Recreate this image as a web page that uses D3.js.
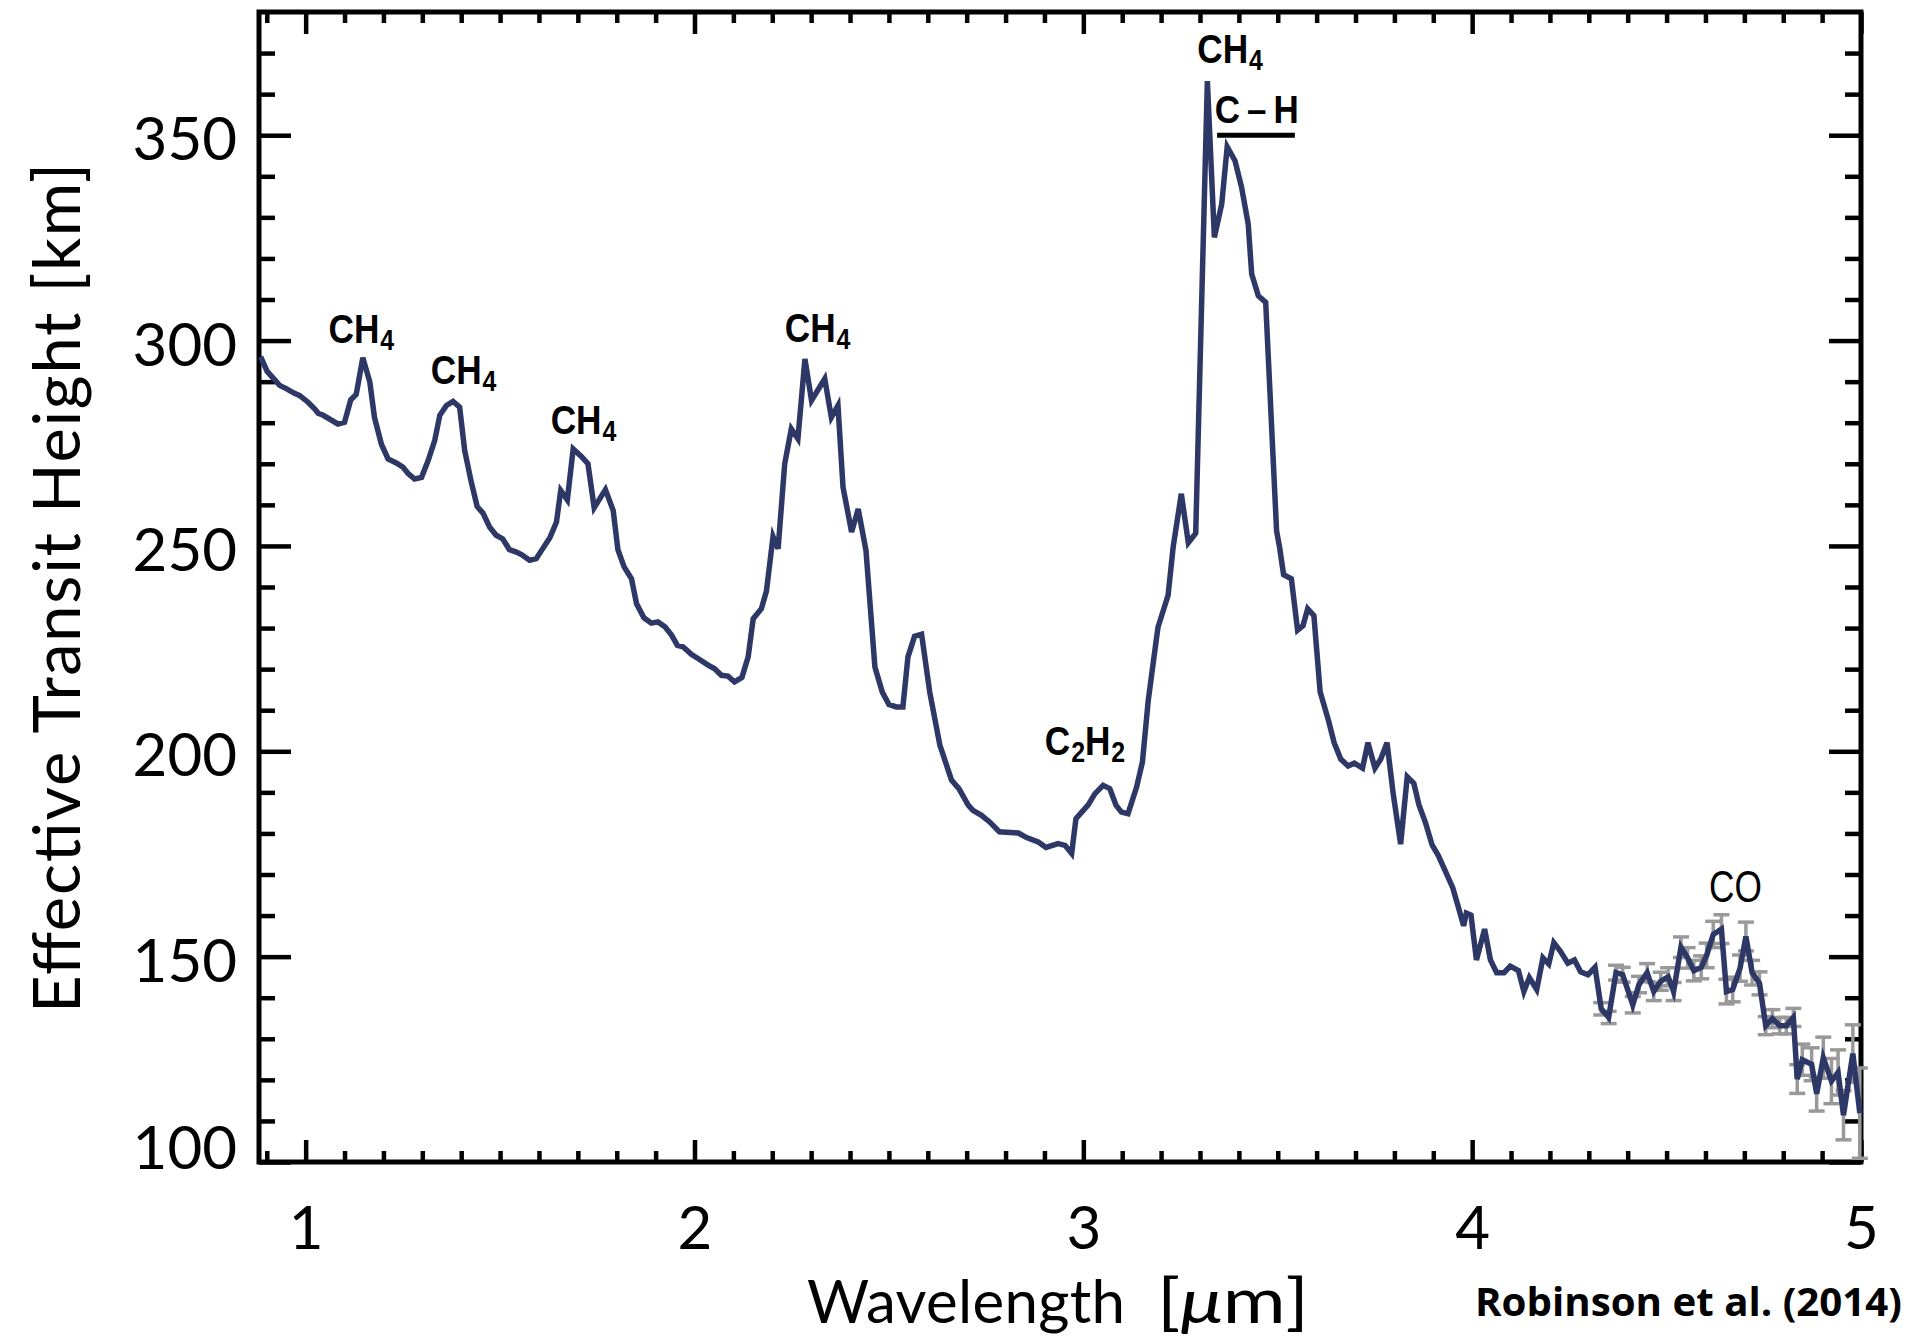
<!DOCTYPE html>
<html>
<head>
<meta charset="utf-8">
<script src="https://cdn.jsdelivr.net/npm/d3@7/dist/d3.min.js"></script>
<style>
  body { margin: 0; background: #fff; }
  svg { display: block; }
</style>
</head>
<body>
<div id="chart"></div>
<script>
// spectrum (wavelength in micron, effective transit height in km)
var wavelength = [
  0.884, 0.901, 0.916, 0.933, 0.950, 0.970, 0.985, 1.006, 1.023, 1.032, 1.045, 1.083, 1.100, 1.116, 1.130,
  1.147, 1.165, 1.177, 1.195, 1.212, 1.233, 1.250, 1.263, 1.280, 1.298, 1.315, 1.332, 1.345, 1.362, 1.379,
  1.396, 1.409, 1.426, 1.441, 1.456, 1.473, 1.490, 1.507, 1.524, 1.542, 1.555, 1.576, 1.593, 1.608, 1.628,
  1.645, 1.656, 1.673, 1.688, 1.709, 1.726, 1.742, 1.771, 1.791, 1.803, 1.819, 1.838, 1.851, 1.870, 1.889,
  1.906, 1.924, 1.941, 1.956, 1.971, 1.992, 2.009, 2.035, 2.052, 2.069, 2.086, 2.103, 2.122, 2.138, 2.151,
  2.172, 2.185, 2.202, 2.215, 2.232, 2.249, 2.266, 2.284, 2.301, 2.335, 2.352, 2.369, 2.382, 2.404, 2.421,
  2.441, 2.464, 2.483, 2.500, 2.519, 2.536, 2.549, 2.566, 2.584, 2.605, 2.631, 2.661, 2.680, 2.704, 2.716,
  2.738, 2.759, 2.784, 2.833, 2.854, 2.884, 2.904, 2.935, 2.953, 2.970, 2.981, 3.012, 3.030, 3.051, 3.068,
  3.084, 3.098, 3.115, 3.137, 3.152, 3.167, 3.180, 3.192, 3.218, 3.231, 3.252, 3.270, 3.289, 3.319, 3.337,
  3.356, 3.370, 3.390, 3.407, 3.424, 3.433, 3.450, 3.469, 3.497, 3.505, 3.515, 3.535, 3.551, 3.565, 3.577,
  3.593, 3.609, 3.631, 3.645, 3.662, 3.681, 3.697, 3.718, 3.732, 3.750, 3.765, 3.781, 3.797, 3.816, 3.833,
  3.850, 3.863, 3.880, 3.897, 3.913, 3.931, 3.950, 3.964, 3.978, 3.985, 3.997, 4.011, 4.032, 4.047, 4.063,
  4.082, 4.098, 4.119, 4.133, 4.147, 4.166, 4.182, 4.197, 4.210, 4.227, 4.246, 4.263, 4.279, 4.298, 4.316,
  4.332, 4.351, 4.370, 4.387, 4.413, 4.429, 4.450, 4.467, 4.485, 4.504, 4.518, 4.537, 4.554, 4.570, 4.589,
  4.603, 4.620, 4.641, 4.654, 4.670, 4.689, 4.704, 4.720, 4.739, 4.755, 4.772, 4.791, 4.808, 4.826, 4.836,
  4.849, 4.873, 4.886, 4.903, 4.924, 4.941, 4.955, 4.979, 4.997
];
var transitHeight = [
  296.1, 292.5, 290.9, 289.1, 288.3, 287.2, 286.6, 285.0, 283.4, 282.3, 281.8, 279.7, 280.1, 285.6, 286.9,
  295.8, 289.9, 281.3, 274.7, 271.2, 270.2, 269.2, 267.7, 266.3, 266.7, 270.8, 275.7, 281.8, 284.2, 285.2,
  283.8, 273.2, 265.5, 259.6, 258.0, 254.6, 252.6, 251.7, 249.1, 248.5, 247.9, 246.5, 246.9, 249.1, 252.0,
  255.8, 263.5, 261.2, 273.6, 271.8, 270.0, 259.3, 263.7, 258.6, 249.1, 244.9, 242.0, 235.9, 232.5, 231.2,
  231.5, 230.3, 228.3, 225.8, 225.4, 223.6, 222.6, 221.0, 220.1, 218.5, 218.3, 216.9, 218.0, 223.0, 232.3,
  234.7, 239.0, 252.3, 249.3, 270.0, 278.5, 276.1, 295.5, 285.4, 290.7, 281.3, 284.2, 264.3, 253.4, 259.0,
  248.9, 220.5, 214.4, 211.4, 210.8, 210.8, 223.0, 228.0, 228.5, 214.4, 201.5, 193.0, 190.9, 186.9, 185.6,
  184.4, 182.8, 180.4, 180.1, 179.0, 177.9, 176.6, 177.5, 177.1, 175.1, 183.6, 186.9, 189.7, 191.7, 190.9,
  186.9, 185.2, 184.8, 191.3, 197.4, 212.4, 221.7, 230.2, 238.0, 249.7, 262.7, 250.8, 253.1, 363.2, 325.1,
  333.3, 347.2, 343.8, 337.3, 328.4, 316.2, 310.9, 309.3, 253.7, 249.5, 243.0, 242.0, 229.5, 230.6, 234.7,
  233.0, 214.5, 207.3, 202.1, 198.1, 196.4, 197.1, 195.9, 202.1, 195.9, 198.1, 202.1, 189.6, 177.4, 193.8,
  192.2, 187.0, 182.6, 177.2, 174.6, 170.8, 166.8, 162.2, 157.5, 160.6, 160.1, 149.2, 156.7, 149.2, 146.1,
  146.1, 147.7, 146.6, 141.5, 144.9, 142.0, 149.7, 148.2, 153.4, 151.3, 148.4, 149.2, 146.3, 145.6, 147.4,
  137.3, 135.2, 146.1, 145.6, 138.3, 143.2, 146.1, 141.5, 144.0, 145.1, 141.5, 152.3, 149.7, 146.6, 147.4,
  150.3, 155.4, 156.7, 141.5, 142.0, 147.2, 154.9, 146.1, 143.5, 133.2, 134.9, 133.2, 133.2, 135.2, 120.2,
  124.9, 123.8, 116.6, 125.4, 119.7, 121.8, 111.4, 126.4, 111.9
];
// error bar half-heights for the last points of the spectrum (from 4.33 micron on)
var errHalf = [
  1.5, 1.5, 1.8, 1.8, 2.0, 2.0, 2.2, 2.2, 2.2, 2.2, 2.2, 2.5, 2.5, 2.5, 2.8,
  3.0, 3.2, 3.5, 3.0, 3.0, 3.2, 3.5, 3.0, 2.8, 2.2, 2.2, 2.0, 2.0, 2.2, 3.5,
  3.8, 4.0, 4.2, 5.0, 5.5, 5.5, 6.0, 7.0, 11.0
];

var xMajor = [1, 2, 3, 4, 5];
var yMajor = [100, 150, 200, 250, 300, 350];

// molecule labels: parts are [text, isSubscript]
var bandLabels = [
  { parts: [["CH", 0], ["4", 1]], wl: 1.059, val: 299.3, bold: true },
  { parts: [["CH", 0], ["4", 1]], wl: 1.322, val: 289.5, bold: true },
  { parts: [["CH", 0], ["4", 1]], wl: 1.630, val: 277.3, bold: true },
  { parts: [["CH", 0], ["4", 1]], wl: 2.232, val: 299.6, bold: true },
  { parts: [["CH", 0], ["4", 1]], wl: 3.293, val: 367.5, bold: true },
  { parts: [["C", 0], ["2", 1], ["H", 0], ["2", 1]], wl: 2.901, val: 199.0, bold: true },
  { parts: [["CO", 0]], wl: 4.609, val: 163.3, bold: false }
];

drawChart();

function drawChart(){
  var width = 1917, height = 1344;
  var mLeft = 259, mRight = 1861, mTop = 12, mBottom = 1162;

  var svg = d3.select("#chart").append("svg")
      .attr("width", width)
      .attr("height", height);

  var x = d3.scaleLinear().domain([0.88, 5.0]).range([mLeft, mRight]);
  var y = d3.scaleLinear().domain([100, 380]).range([mBottom, mTop]);

  var tickFont = "Lato, 'DejaVu Sans', sans-serif";
  var labelFont = "'Liberation Sans', Arial, sans-serif";

  var xMinor = d3.range(9, 50).map(function(d){ return d / 10; }).filter(function(d){ return d % 1 !== 0; });
  var yMinor = d3.range(110, 380, 10).filter(function(d){ return d % 50 !== 0; });

  function styleAxis(g) {
    g.select(".domain").remove();
    g.selectAll(".tick line").attr("stroke", "#000").attr("stroke-width", 4.5);
  }

  // bottom axis with labels
  svg.append("g")
      .attr("transform", "translate(0," + mBottom + ")")
      .call(d3.axisBottom(x).tickValues(xMajor).tickSizeInner(-22).tickSizeOuter(0).tickPadding(44).tickFormat(d3.format("d")))
      .call(styleAxis)
      .call(function(g){
        g.selectAll("text").attr("font-family", tickFont).attr("font-size", 60).attr("fill", "#000");
      });
  svg.append("g")
      .attr("transform", "translate(0," + mBottom + ")")
      .call(d3.axisBottom(x).tickValues(xMinor).tickSizeInner(-11).tickSizeOuter(0).tickFormat(""))
      .call(styleAxis);

  // top axis (mirror)
  svg.append("g")
      .attr("transform", "translate(0," + mTop + ")")
      .call(d3.axisTop(x).tickValues(xMajor).tickSizeInner(-22).tickSizeOuter(0).tickFormat(""))
      .call(styleAxis);
  svg.append("g")
      .attr("transform", "translate(0," + mTop + ")")
      .call(d3.axisTop(x).tickValues(xMinor).tickSizeInner(-11).tickSizeOuter(0).tickFormat(""))
      .call(styleAxis);

  // left axis with labels
  svg.append("g")
      .attr("transform", "translate(" + mLeft + ",0)")
      .call(d3.axisLeft(y).tickValues(yMajor).tickSizeInner(-32).tickSizeOuter(0).tickPadding(22).tickFormat(d3.format("d")))
      .call(styleAxis)
      .call(function(g){
        g.selectAll("text")
          .attr("font-family", tickFont).attr("font-size", 60).attr("fill", "#000")
          .attr("dy", "0.41em")
          .attr("y", function(d){ return d === 100 ? -18 : 0; });
      });
  svg.append("g")
      .attr("transform", "translate(" + mLeft + ",0)")
      .call(d3.axisLeft(y).tickValues(yMinor).tickSizeInner(-16).tickSizeOuter(0).tickFormat(""))
      .call(styleAxis);

  // right axis (mirror)
  svg.append("g")
      .attr("transform", "translate(" + mRight + ",0)")
      .call(d3.axisRight(y).tickValues(yMajor).tickSizeInner(-32).tickSizeOuter(0).tickFormat(""))
      .call(styleAxis);
  svg.append("g")
      .attr("transform", "translate(" + mRight + ",0)")
      .call(d3.axisRight(y).tickValues(yMinor).tickSizeInner(-16).tickSizeOuter(0).tickFormat(""))
      .call(styleAxis);

  // frame
  svg.append("rect")
      .attr("x", mLeft).attr("y", mTop)
      .attr("width", mRight - mLeft).attr("height", mBottom - mTop)
      .attr("fill", "none").attr("stroke", "#000").attr("stroke-width", 5);

  var points = wavelength.map(function(w, i){ return { wl: w, h: transitHeight[i] }; });
  var errPoints = points.slice(points.length - errHalf.length).map(function(p, i){
    return { wl: p.wl, h: p.h, e: errHalf[i] };
  });

  // error bars (grey, drawn under the line)
  var bars = svg.append("g").attr("stroke", "#999").attr("stroke-width", 3.5);
  bars.selectAll("line.bar")
      .data(errPoints).enter()
    .append("line")
      .attr("class", "bar")
      .attr("x1", function(d){ return x(d.wl); }).attr("x2", function(d){ return x(d.wl); })
      .attr("y1", function(d){ return y(d.h - d.e); }).attr("y2", function(d){ return y(d.h + d.e); });
  bars.selectAll("line.capTop")
      .data(errPoints).enter()
    .append("line")
      .attr("class", "capTop")
      .attr("x1", function(d){ return x(d.wl) - 8; }).attr("x2", function(d){ return x(d.wl) + 8; })
      .attr("y1", function(d){ return y(d.h + d.e); }).attr("y2", function(d){ return y(d.h + d.e); });
  bars.selectAll("line.capBot")
      .data(errPoints).enter()
    .append("line")
      .attr("class", "capBot")
      .attr("x1", function(d){ return x(d.wl) - 8; }).attr("x2", function(d){ return x(d.wl) + 8; })
      .attr("y1", function(d){ return y(d.h - d.e); }).attr("y2", function(d){ return y(d.h - d.e); });

  // spectrum
  var line = d3.line()
      .x(function(d){ return x(d.wl); })
      .y(function(d){ return y(d.h); });

  svg.append("path")
      .datum(points)
      .attr("fill", "none")
      .attr("stroke", "#2e3867")
      .attr("stroke-width", 5.5)
      .attr("d", line);

  // band labels (narrowed like a condensed face)
  bandLabels.forEach(function(b){
    var t = svg.append("text")
        .attr("transform", "translate(" + x(b.wl) + "," + y(b.val) + ") scale(" + (b.bold ? 0.86 : 0.8) + ",1)")
        .attr("font-family", labelFont)
        .attr("font-weight", b.bold ? "bold" : "normal")
        .attr("font-size", b.bold ? 41 : 44)
        .attr("fill", "#000");
    b.parts.forEach(function(p, i){
      var prevSub = i > 0 && b.parts[i - 1][1];
      t.append("tspan")
          .attr("font-size", p[1] ? 29 : null)
          .attr("dx", p[1] ? 1 : 0)
          .attr("dy", p[1] ? 7 : (prevSub ? -7 : 0))
          .text(p[0]);
    });
  });

  // C-H stretch label with underline
  svg.append("text")
      .attr("x", x(3.338)).attr("y", y(352.9))
      .attr("font-family", labelFont).attr("font-weight", "bold")
      .attr("font-size", 39).attr("fill", "#000")
      .attr("textLength", 84).attr("lengthAdjust", "spacingAndGlyphs")
      .text("C\u2009\u2013\u2009H");
  svg.append("line")
      .attr("x1", x(3.344)).attr("x2", x(3.544))
      .attr("y1", y(350)).attr("y2", y(350))
      .attr("stroke", "#000").attr("stroke-width", 5);

  // axis titles
  svg.append("text")
      .attr("x", 807).attr("y", 1323)
      .attr("font-family", tickFont).attr("font-size", 60).attr("fill", "#000")
      .attr("textLength", 318).attr("lengthAdjust", "spacing")
      .text("Wavelength");
  svg.append("text")
      .attr("x", 1157).attr("y", 1323)
      .attr("font-family", tickFont).attr("font-size", 62).attr("fill", "#000")
      .attr("textLength", 152).attr("lengthAdjust", "spacingAndGlyphs")
      .html("[<tspan font-style='italic'>\u03bc</tspan>m]");

  svg.append("text")
      .attr("transform", "translate(80," + ((mTop + mBottom) / 2 + 1) + ") rotate(-90)")
      .attr("text-anchor", "middle")
      .attr("font-family", tickFont).attr("font-size", 65).attr("fill", "#000")
      .attr("textLength", 850).attr("lengthAdjust", "spacing")
      .text("Effective  Transit  Height  [km]");

  // citation
  svg.append("text")
      .attr("x", 1475).attr("y", 1316)
      .attr("font-family", "'Open Sans', 'Noto Sans', sans-serif").attr("font-weight", "bold")
      .attr("font-size", 39).attr("fill", "#000")
      .attr("textLength", 427).attr("lengthAdjust", "spacingAndGlyphs")
      .text("Robinson et al. (2014)");
}
</script>
</body>
</html>
